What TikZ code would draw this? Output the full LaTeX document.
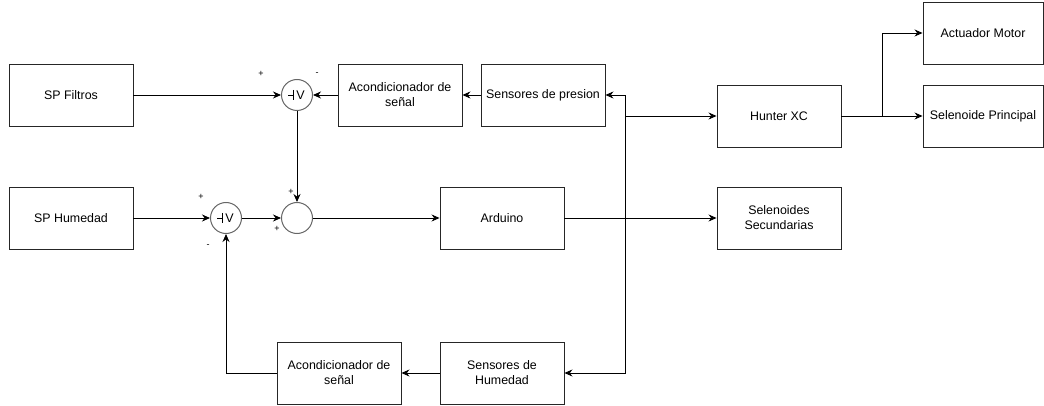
\documentclass[tikz,border=0pt]{standalone}
\usepackage{fontspec}
\setmainfont{Liberation Sans}
\usetikzlibrary{arrows.meta,calc}
\begin{document}
\begin{tikzpicture}[x=1pt,y=-1pt,
  blk/.style={draw=black!85,line width=0.9pt,minimum width=124pt,minimum height=62pt,align=center,font=\fontsize{12.4}{15}\selectfont,inner sep=1pt},
  blks/.style={blk,minimum width=120pt},
  sumc/.style={circle,draw=black!60,line width=1pt,minimum size=31pt,inner sep=0pt},
  sgn/.style={font=\fontsize{9}{10}\selectfont,inner sep=0pt},
  arr/.style={draw=black,line width=0.9pt,-{Stealth[length=8pt,width=7pt]}},
  ln/.style={draw=black,line width=0.9pt}]
\useasboundingbox (0,0) rectangle (1044,406);
% blocks
\node[blk] (spf) at (71,95) {SP Filtros};
\node[blk] (sph) at (71,218) {SP Humedad};
\node[blk] (ac1) at (400,95) {Acondicionador de\\señal};
\node[blk] (sp) at (543,95) {Sensores de presion};
\node[blk] (hx) at (779,116) {Hunter XC};
\node[blks] (am) at (983,33) {Actuador Motor};
\node[blks] (sl) at (983,116) {Selenoide Principal};
\node[blk] (ard) at (502,218) {Arduino};
\node[blk] (ss) at (779,218) {Selenoides\\Secundarias};
\node[blk] (ac2) at (339,373) {Acondicionador de\\señal};
\node[blk] (sh) at (502,373) {Sensores de\\Humedad};
% summing junctions
\node[sumc] (s1) at (297,95) {};
\node[sumc] (s2) at (226,218) {};
\node[sumc] (s3) at (297,218) {};
\foreach \s in {s1,s2}{
  \draw[line width=0.9pt] ($(\s.center)+(-4,-5)$) -- ($(\s.center)+(-4,5)$);
  \draw[line width=0.9pt] ($(\s.center)+(-9,0.5)$) -- ($(\s.center)+(-4,0.5)$);
  \node[font=\fontsize{12.5}{14}\selectfont,inner sep=0pt] at ($(\s.center)+(3.5,0)$) {V};
}
% signs
\node[sgn] (p1) at (261,74) {+};
\node[sgn] (m1) at (317,74) {-};
\node[sgn] (p2) at (201,197) {+};
\node[sgn] (m2) at (208,246) {-};
\node[sgn] (p3) at (291,192) {+};
\node[sgn] (p4) at (277,229) {+};
% connectors
\coordinate (j) at (625,116);
\coordinate (k) at (882,116);
\draw[arr] (spf.east) -- (s1.west);
\draw[arr] (sp.west) -- (ac1.east);
\draw[arr] (ac1.west) -- (s1.east);
\draw[arr] (s1.south) -- (s3.north);
\draw[arr] (sph.east) -- (s2.west);
\draw[arr] (s2.east) -- (s3.west);
\draw[arr] (s3.east) -- (ard.west);
\draw[arr] (ard.east) -- (ss.west);
\draw[arr] (j) -- (hx.west);
\draw[arr] (j) |- (sp.east);
\draw[arr] (j) |- (sh.east);
\draw[arr] (sh.west) -- (ac2.east);
\draw[arr] (ac2.west) -| (s2.south);
\draw[arr] (hx.east) -- (sl.west);
\draw[arr] (k) |- (am.west);
\end{tikzpicture}
\end{document}
